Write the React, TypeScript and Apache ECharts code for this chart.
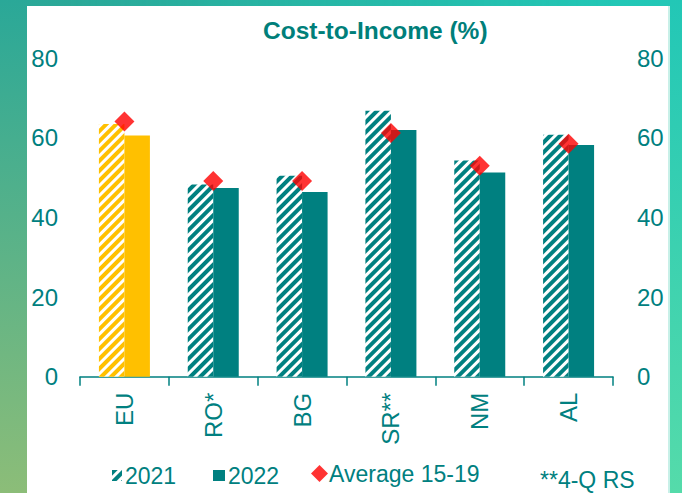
import React, { useEffect, useRef } from "react";
import * as echarts from "echarts";

const categories = ["EU", "RO*", "BG", "SR**", "NM", "AL"];
const values2021 = [63.5, 48.3, 50.5, 66.8, 54.3, 60.8];
const values2022 = [60.6, 47.4, 46.4, 62.0, 51.3, 58.2];
const avg1519 = [64.1, 49.2, 49.2, 61.2, 53.0, 58.5];
const seriesNames = ["2021", "2022", "Average 15-19"];
const highlightCategory = "EU";

const TEAL = "#008080";
const YELLOW = "#FFC000";
const FONT = 'Arial, "Liberation Sans", sans-serif';

const hatch = (c: string) => ({
  symbol: "rect",
  symbolSize: 1,
  dashArrayX: [1, 0],
  dashArrayY: [3.2, 2.6],
  rotation: -Math.PI / 4,
  color: c,
});

export default function App() {
  const ref = useRef<HTMLDivElement>(null);

  useEffect(() => {
    if (!ref.current) return;
    const chart = echarts.init(ref.current, null, { renderer: "svg" });
    const d2021 = values2021.map((v, i) =>
      categories[i] === highlightCategory
        ? { value: v, itemStyle: { color: "#ffffff", decal: hatch(YELLOW) } }
        : v
    );
    const d2022 = values2022.map((v, i) =>
      categories[i] === highlightCategory
        ? { value: v, itemStyle: { color: YELLOW } }
        : v
    );
    const legendCommon = {
      top: 464,
      padding: 0,
      itemHeight: 11,
      itemWidth: 10,
      textStyle: { color: TEAL, fontSize: 23, fontFamily: FONT, padding: [0, 0, 0, -2] },
      selectedMode: false,
    };
    chart.setOption({
      animation: false,
      backgroundColor: "transparent",
      title: {
        text: "Cost-to-Income (%)",
        left: 263,
        top: 18,
        padding: 0,
        textStyle: { color: "#007F7A", fontSize: 24.5, fontWeight: "bold", fontFamily: FONT },
      },
      legend: [
        { ...legendCommon, left: 112, data: [{ name: seriesNames[0], icon: "rect" }] },
        { ...legendCommon, left: 213, itemWidth: 12, data: [{ name: seriesNames[1], icon: "rect" }] },
        {
          ...legendCommon,
          left: 311,
          top: 462,
          itemWidth: 17,
          itemHeight: 17,
          textStyle: { ...legendCommon.textStyle, padding: [0, 0, 0, -4] },
          data: [{ name: seriesNames[2], icon: "diamond" }],
        },
      ],
      graphic: [
        {
          type: "text",
          left: 540,
          top: 468,
          style: { text: "**4-Q RS", fill: TEAL, fontSize: 23, fontFamily: FONT },
        },
      ],
      grid: { left: 80, right: 69, top: 58.3, bottom: 116.3, containLabel: false },
      xAxis: {
        type: "category",
        data: categories,
        axisLine: { lineStyle: { color: TEAL, width: 1.5 } },
        axisTick: { show: true, length: 9, lineStyle: { color: TEAL, width: 1.5 } },
        axisLabel: { rotate: 90, margin: 16, color: TEAL, fontSize: 24, fontFamily: FONT },
      },
      yAxis: [
        {
          type: "value",
          min: 0,
          max: 80,
          interval: 20,
          position: "left",
          splitLine: { show: false },
          axisLine: { show: false },
          axisTick: { show: false },
          axisLabel: { margin: 22, color: TEAL, fontSize: 24, fontFamily: FONT },
        },
        {
          type: "value",
          min: 0,
          max: 80,
          interval: 20,
          position: "right",
          splitLine: { show: false },
          axisLine: { show: false },
          axisTick: { show: false },
          axisLabel: { margin: 24, color: TEAL, fontSize: 24, fontFamily: FONT },
        },
      ],
      series: [
        {
          name: seriesNames[0],
          type: "bar",
          data: d2021,
          barWidth: 25.5,
          barGap: "0%",
          itemStyle: { color: "#ffffff", decal: hatch(TEAL) },
        },
        {
          name: seriesNames[1],
          type: "bar",
          data: d2022,
          barWidth: 25.5,
          barGap: "0%",
          itemStyle: { color: TEAL },
        },
        {
          name: seriesNames[2],
          type: "scatter",
          data: avg1519,
          symbol: "diamond",
          symbolSize: 20,
          itemStyle: { color: "#FF0000" },
          z: 5,
        },
      ],
    });
    return () => chart.dispose();
  }, []);

  return (
    <div style={{ position: "fixed", left: 0, top: 0, width: 682, height: 493, overflow: "hidden" }}>
      <div
        style={{
          position: "absolute",
          inset: 0,
          background: "linear-gradient(to bottom, #22c7b6, #55dbaa)",
        }}
      />
      <div
        style={{
          position: "absolute",
          inset: 0,
          background: "linear-gradient(to bottom, #2aa898, #8cbd78)",
          WebkitMaskImage: "linear-gradient(to right, black 0%, black 10%, transparent 90%)",
          maskImage: "linear-gradient(to right, black 0%, black 10%, transparent 90%)",
        }}
      />
      <div
        style={{
          position: "absolute",
          left: 27,
          top: 6,
          width: 641,
          height: 487,
          background: "#ffffff",
          borderRight: "2px solid #c8f0e8",
        }}
      />
      <div ref={ref} style={{ position: "absolute", left: 0, top: 0, width: 682, height: 493 }} />
    </div>
  );
}
